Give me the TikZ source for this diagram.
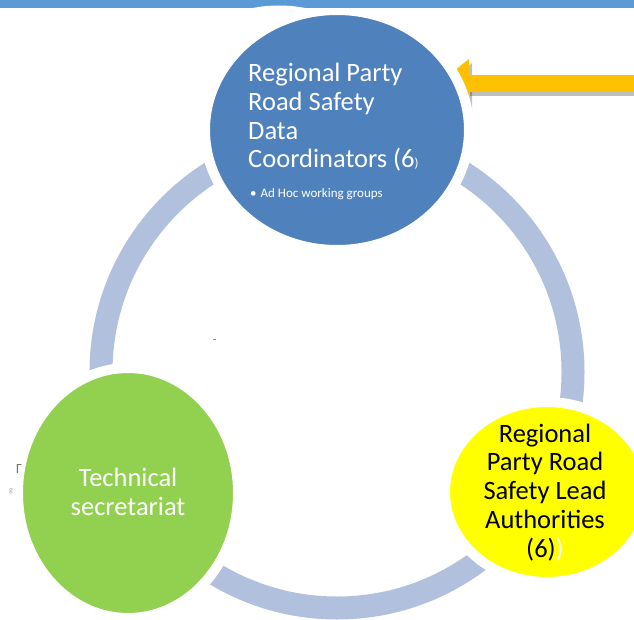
\documentclass[tikz,border=0pt]{standalone}
\usepackage{fontspec}
\setmainfont{Carlito}
\usetikzlibrary{shapes.geometric,arrows.meta}
\definecolor{bandblue}{HTML}{5B9BD5}
\definecolor{cblue}{HTML}{4F81BD}
\definecolor{cgreen}{HTML}{92D050}
\definecolor{cyellow}{HTML}{FFFF00}
\definecolor{ringblue}{RGB}{177,193,221}
\definecolor{cgold}{HTML}{FFC000}
\tikzset{e/.style={ellipse, inner sep=0, draw=white, line width=10pt},
  txt/.style={inner sep=0, align=center, font=\fontsize{26.5}{28.7}\selectfont},
  ring/.style={draw=ringblue, line width=23pt},
  goldarrow/.style={line width=17pt, -{Triangle[width=47pt,length=31pt]}}}

\begin{document}
\begin{tikzpicture}[x=1pt,y=-1pt]
    \useasboundingbox (0,0) rectangle (634,620);
    \clip (0,0) rectangle (634,620);

    \coordinate (hub) at (337,372);
    \draw[ring] (hub) circle (236);

    \coordinate (from) at (650,83.5);
    \coordinate (tip) at (438,83.5);
    \draw[goldarrow, draw=black, opacity=.25] ([shift={(3,4)}]from) -- ([shift={(3,4)}]tip);
    \draw[goldarrow, draw=cgold] (from) -- (tip);

    \node[e, fill=cblue, minimum width=264pt, minimum height=240pt] (coord) at (337,130) {};
    \node[e, fill=cgreen, minimum width=220pt, minimum height=250pt] (secr) at (128,493) {};
    \node[e, fill=cyellow, minimum width=204pt, minimum height=180pt] (lead) at (547,492) {};

    \begin{scope}
      \clip (0,0) rectangle (634,8);
      \fill[bandblue] (0,0) rectangle (634,8);
      \fill[white] (279,24) ellipse (52 and 18.5);
    \end{scope}

    % base = last line
    \node[txt, text=white, align=left, anchor=base west] (coordtxt) at (248,168)
      {Regional Party\\Road Safety\\Data\\Coordinators (6{\fontsize{13}{13}\selectfont)}};
    \node[inner sep=0, text=white, anchor=base west, font=\fontsize{13}{15}\selectfont] (adhoc) at (250,198)
      {\textbullet\hspace{4pt}Ad Hoc working groups};
    \node[txt, anchor=base] (leadtxt) at (545,557)
      {Regional\\Party Road\\Safety Lead\\Authorities\\(6){\color{white})}};
    \node[txt, text=white, anchor=base] (secrtxt) at (128,515) {Technical\\secretariat};

    % leftovers peeking out
    \node[inner sep=0, text=black!55, anchor=base west, font=\fontsize{14}{14}\selectfont] (lefta) at (16,473) {Γ};
    \node[inner sep=0, text=black!35, anchor=base west, font=\fontsize{8}{8}\selectfont] (leftb) at (9,492) {g};
    \fill[black!45] (213,338.6) rectangle (216,339.6);
\end{tikzpicture}
\end{document}
